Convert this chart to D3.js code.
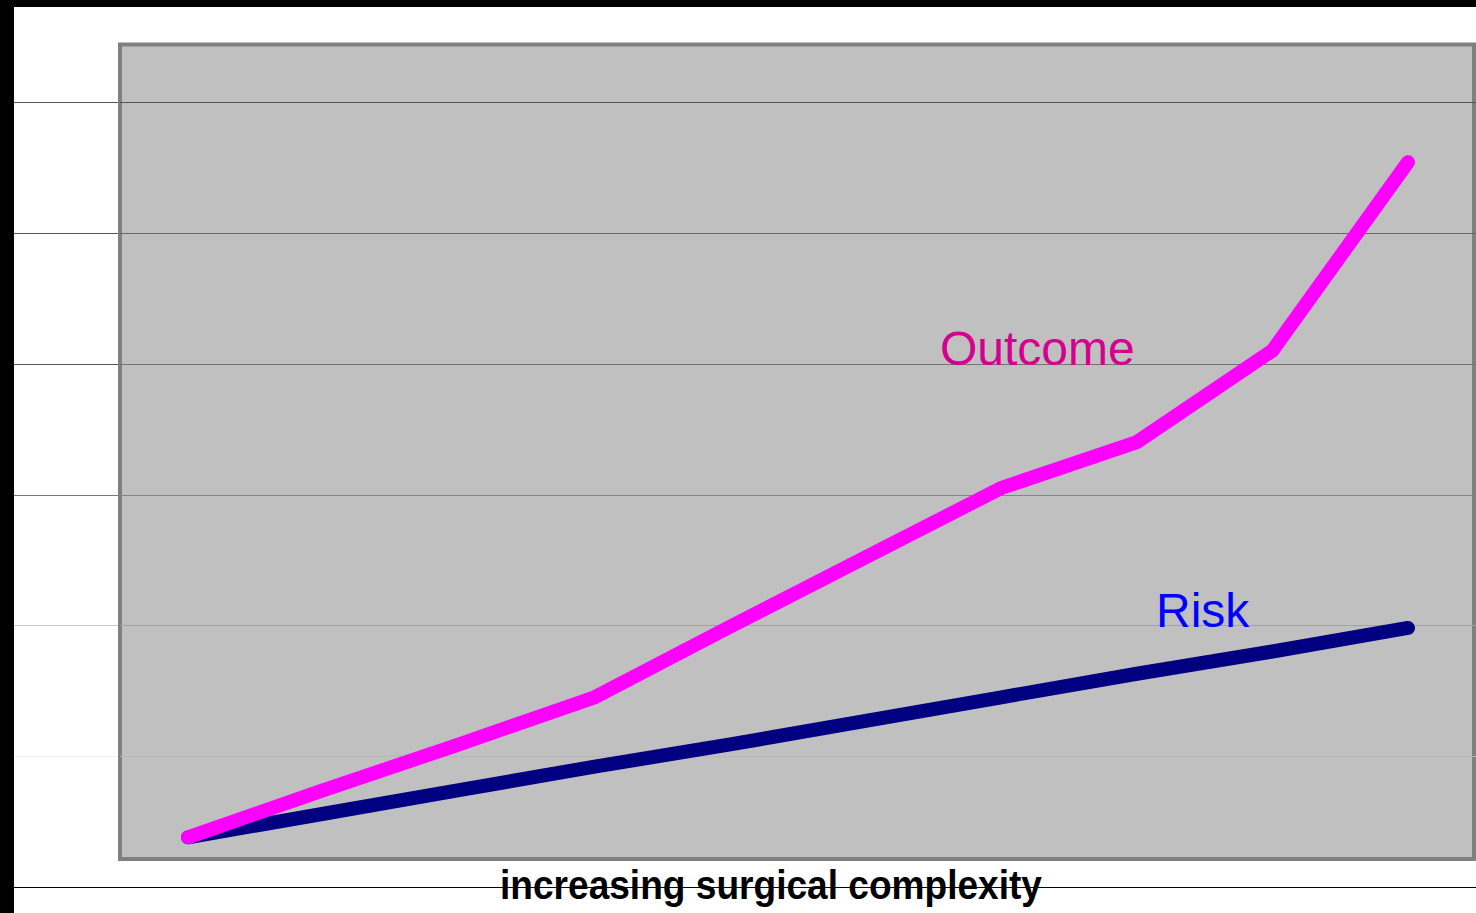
<!DOCTYPE html>
<html>
<head>
<meta charset="utf-8">
<script src="https://cdn.jsdelivr.net/npm/d3@7"></script>
<style>
  body { margin: 0; background: #fff; }
  svg { display: block; }
</style>
</head>
<body>
<script>
//Declare consts/global variables
const width = 1476;
const height = 913;

//Data (units = gridline steps)
const steps = [1, 2, 3, 4, 5, 6, 7, 8, 9, 10];
const outcome = [0.38, 0.74, 1.09, 1.45, 1.99, 2.52, 3.05, 3.40, 4.10, 5.54];
const risk = [0.38, 0.56, 0.74, 0.92, 1.09, 1.27, 1.45, 1.63, 1.80, 1.98];
const gridValues = [0, 1, 2, 3, 4, 5, 6];
const seriesNames = ["Outcome", "Risk"];
const axisTitle = "increasing surgical complexity";

//gridline tones (outside plot / inside plot), bottom to top
const gridOut = ["#000", "#eeeeee", "#c8c8c8", "#777", "#555", "#555", "#555"];
const gridIn = ["#000", "#b6b6b6", "#a2a2a2", "#848484", "#747474", "#666", "#555"];

//Scales
const xScale = d3.scalePoint()
    .domain(steps)
    .range([188, 1408]);

const yScale = d3.scaleLinear()
    .domain([0, 6])
    .range([887, 102]);

//SVG
const svg = d3.select("body")
    .append("svg")
    .attr("width", width)
    .attr("height", height);

//black frame
svg.append("rect").attr("x", 0).attr("y", 0).attr("width", width).attr("height", 7).attr("fill", "#000");
svg.append("rect").attr("x", 0).attr("y", 0).attr("width", 14).attr("height", height).attr("fill", "#000");

//gridlines, outside the plot box
svg.selectAll(".gridOut")
    .data(gridValues)
    .enter()
    .append("line")
    .attr("class", "gridOut")
    .attr("x1", 14)
    .attr("x2", width)
    .attr("y1", d => Math.round(yScale(d)) + 0.5)
    .attr("y2", d => Math.round(yScale(d)) + 0.5)
    .attr("stroke", (d, i) => gridOut[i])
    .attr("stroke-width", 1);

//plot box
const plotTop = 44.5, plotBottom = 859, plotLeft = 120, plotRight = 1474;
svg.append("rect")
    .attr("x", plotLeft)
    .attr("y", plotTop)
    .attr("width", plotRight - plotLeft)
    .attr("height", plotBottom - plotTop)
    .attr("fill", "#c0c0c0")
    .attr("stroke", "#808080")
    .attr("stroke-width", 4);

//gridlines inside the plot box
svg.selectAll(".gridIn")
    .data(gridValues.filter(d => yScale(d) > plotTop && yScale(d) < plotBottom))
    .enter()
    .append("line")
    .attr("class", "gridIn")
    .attr("x1", plotLeft)
    .attr("x2", width)
    .attr("y1", d => Math.round(yScale(d)) + 0.5)
    .attr("y2", d => Math.round(yScale(d)) + 0.5)
    .attr("stroke", d => gridIn[d])
    .attr("stroke-width", 1);

//Lines
const line = d3.line()
    .x((d, i) => xScale(steps[i]))
    .y(d => yScale(d));

svg.append("path")
    .datum(risk)
    .attr("d", line)
    .attr("fill", "none")
    .attr("stroke", "#000080")
    .attr("stroke-width", 14)
    .attr("stroke-linecap", "round")
    .attr("stroke-linejoin", "miter");

svg.append("path")
    .datum(outcome)
    .attr("d", line)
    .attr("fill", "none")
    .attr("stroke", "#ff00ff")
    .attr("stroke-width", 14)
    .attr("stroke-linecap", "round")
    .attr("stroke-linejoin", "miter");

//series labels
svg.append("text")
    .attr("x", 940)
    .attr("y", yScale(4) + 1)
    .attr("font-family", "Liberation Sans, Arial, sans-serif")
    .attr("font-size", 48)
    .attr("fill", "#d4008f")
    .text(seriesNames[0]);

svg.append("text")
    .attr("x", 1156)
    .attr("y", yScale(2) + 2)
    .attr("font-family", "Liberation Sans, Arial, sans-serif")
    .attr("font-size", 48)
    .attr("fill", "#0000ff")
    .text(seriesNames[1]);

//axis title
svg.append("text")
    .attr("x", 500)
    .attr("y", 899)
    .attr("font-family", "Liberation Sans, Arial, sans-serif")
    .attr("font-weight", "bold")
    .attr("font-size", 41)
    .attr("textLength", 542)
    .attr("lengthAdjust", "spacingAndGlyphs")
    .attr("fill", "#000")
    .text(axisTitle);
</script>
</body>
</html>
